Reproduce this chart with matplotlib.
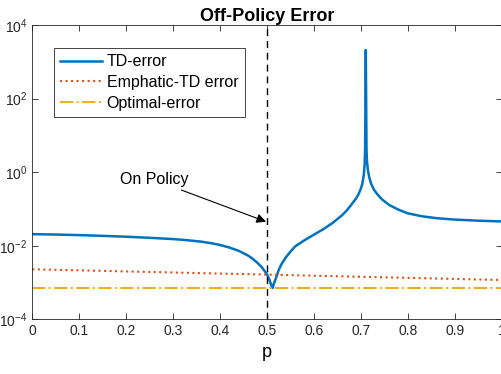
import numpy as np
import matplotlib
matplotlib.use('Agg')
import matplotlib.pyplot as plt

plt.rcParams['font.family'] = ['Liberation Sans', 'DejaVu Sans']

# TD-error curve (log10 of the error)
p_td = [0.00, 0.05, 0.10, 0.15, 0.20, 0.25, 0.30, 0.33, 0.36, 0.38, 0.40, 0.42,
        0.44, 0.46, 0.47, 0.48, 0.49, 0.50, 0.505, 0.510, 0.512, 0.515, 0.52,
        0.525, 0.53, 0.54, 0.55, 0.56, 0.58, 0.60, 0.62, 0.64, 0.66, 0.67, 0.68,
        0.69, 0.695, 0.70, 0.703, 0.706, 0.708, 0.709, 0.7105, 0.712, 0.713,
        0.715, 0.718, 0.722, 0.728, 0.735, 0.745, 0.76, 0.78, 0.80, 0.83, 0.86,
        0.90, 0.95, 1.00]
td_log10 = [-1.685, -1.697, -1.712, -1.732, -1.756, -1.785, -1.82, -1.85, -1.89, -1.93,
            -1.98, -2.05, -2.14, -2.27, -2.36, -2.47, -2.60, -2.78, -2.92, -3.10,
            -3.15, -3.02, -2.85, -2.66, -2.52, -2.32, -2.16, -2.02, -1.85, -1.70,
            -1.55, -1.38, -1.17, -1.04, -0.88, -0.71, -0.60, -0.45, -0.32, -0.10,
            0.20, 0.60, 3.32, 0.60, 0.30, 0.05, -0.15, -0.32, -0.48, -0.60, -0.74,
            -0.89, -1.02, -1.12, -1.20, -1.25, -1.29, -1.32, -1.34]
td_error = 10.0 ** np.array(td_log10)

# Emphatic-TD and optimal error
p_grid = [0.0, 0.1, 0.2, 0.3, 0.4, 0.5, 0.6, 0.7, 0.8, 0.9, 1.0]
emphatic_error = [0.00229, 0.00214, 0.00200, 0.00187, 0.00175, 0.00164,
                  0.00153, 0.00143, 0.00134, 0.00125, 0.00117]
optimal_error = [0.00071] * len(p_grid)

blue = '#0072BD'
orange = '#D95319'
yellow = '#EDB120'

fig = plt.figure(figsize=(5.02, 3.74), dpi=100)
ax = fig.add_axes([0.0643, 0.1463, 0.9351, 0.7869])

ax.semilogy(p_td, td_error, color=blue, lw=1.8, label='TD-error')
ax.semilogy(p_grid, emphatic_error, color=orange, lw=1.5, linestyle=':', label='Emphatic-TD error')
ax.semilogy(p_grid, optimal_error, color=yellow, lw=1.5, linestyle='-.', label='Optimal-error')
ax.axvline(0.5, color='k', lw=1.0, linestyle=(0, (5, 3.5)))

ax.annotate('On Policy', xy=(0.498, 0.045), xytext=(0.332, 0.62),
            ha='right', va='center', fontsize=11.5,
            arrowprops=dict(arrowstyle='-|>', color='k', lw=0.8, mutation_scale=14,
                            shrinkA=0, shrinkB=0))

ax.set_xlim(0, 1)
ax.set_ylim(1e-4, 1e4)
ax.set_xticks(np.arange(0, 1.01, 0.1))
ax.set_xticklabels(['0', '0.1', '0.2', '0.3', '0.4', '0.5', '0.6', '0.7', '0.8', '0.9', '1'])
ax.set_yticks([1e-4, 1e-2, 1e0, 1e2, 1e4])
ax.yaxis.set_minor_locator(matplotlib.ticker.NullLocator())
ax.tick_params(direction='in', top=True, right=True, labelsize=10, length=4,
               width=0.6, colors='#262626')
for s in ax.spines.values():
    s.set_linewidth(0.6)
    s.set_color('#262626')

ax.set_xlabel('p', fontsize=13, labelpad=4)
ax.set_title('Off-Policy Error', fontsize=13, fontweight='bold', pad=3)

leg = ax.legend(loc='upper left', bbox_to_anchor=(0.046, 0.922), fontsize=11.5,
                handlelength=2.6, handletextpad=0.3, borderpad=0.4,
                labelspacing=0.35, fancybox=False, framealpha=1, borderaxespad=0)
leg.get_frame().set_edgecolor('#262626')
leg.get_frame().set_linewidth(0.6)

fig.savefig('out.png', dpi=100)
